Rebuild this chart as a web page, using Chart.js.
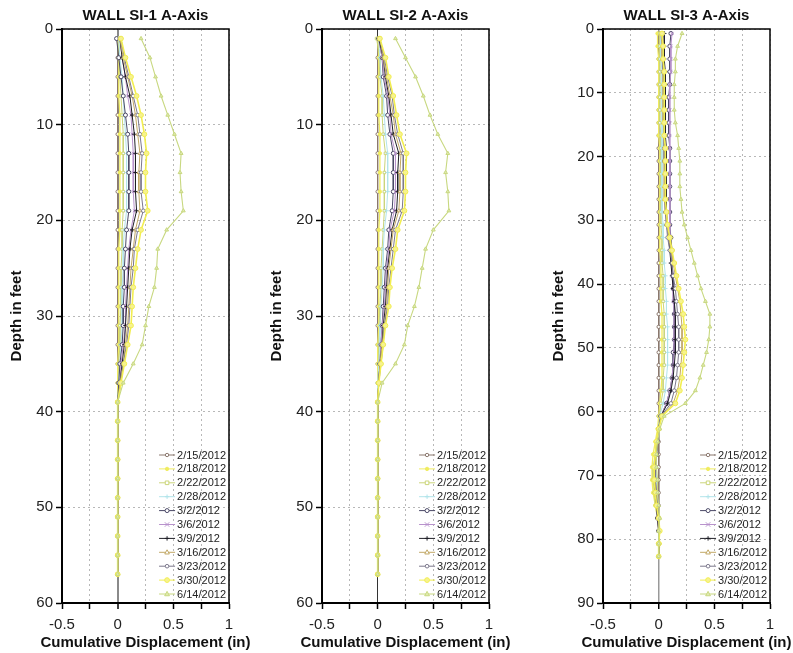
<!DOCTYPE html>
<html><head><meta charset="utf-8">
<script src="https://cdn.jsdelivr.net/npm/chart.js@4.4.1/dist/chart.umd.min.js"></script>
<style>
html,body{margin:0;padding:0;background:#fff;}
#wrap{position:relative;width:793px;height:653px;overflow:hidden;background:#fff;}
canvas{position:absolute;top:0;}
</style></head><body>
<div id="wrap">
<canvas id="c1" width="260" height="653" style="left:0px"></canvas>
<canvas id="c2" width="260" height="653" style="left:260px"></canvas>
<canvas id="c3" width="273" height="653" style="left:520px"></canvas>
</div>
<script>
// ---------------- DATA ----------------
const DATES = ['2/15/2012','2/18/2012','2/22/2012','2/28/2012','3/2/2012','3/6/2012','3/9/2012','3/16/2012','3/23/2012','3/30/2012','6/14/2012'];
const TITLES = ['WALL SI-1 A-Axis','WALL SI-2 A-Axis','WALL SI-3 A-Axis'];
const X_TITLE = 'Cumulative Displacement (in)';
const Y_TITLE = 'Depth in feet';
const X_LABELED = [-0.5, 0, 0.5, 1];
const Y_MAX = [60, 60, 90];

const DEPTH_SI1 = [1,3,5,7,9,11,13,15,17,19,21,23,25,27,29,31,33,35,37,39,41,43,45,47,49,51,53,55,57];
const DEPTH_SI2 = [1,3,5,7,9,11,13,15,17,19,21,23,25,27,29,31,33,35,37,39,41,43,45,47,49,51,53,55,57];
const DEPTH_SI3 = [0.7,2.7,4.7,6.7,8.7,10.7,12.7,14.7,16.7,18.7,20.7,22.7,24.7,26.7,28.7,30.7,32.7,34.7,36.7,38.7,40.7,42.7,44.7,46.7,48.7,50.7,52.7,54.7,56.7,58.7,60.7,62.7,64.7,66.7,68.7,70.7,72.7,74.7,76.7,78.7,80.7,82.7];

// SI-1
const SI1_0215 = [0,0,0,0,0,0,0,0,0,0,0,0,0,0,0,0,0,0,0,0,0,0,0,0,0,0,0,0,0];
const SI1_0218 = [0.00,0.01,0.01,0.01,0.02,0.02,0.02,0.02,0.02,0.02,0.02,0.01,0.01,0.01,0.01,0.01,0.01,0.00,0.00,0.00,0,0,0,0,0,0,0,0,0];
const SI1_0222 = [0.01,0.01,0.02,0.03,0.04,0.05,0.05,0.05,0.05,0.05,0.04,0.04,0.03,0.03,0.03,0.02,0.02,0.01,0.01,0.00,0,0,0,0,0,0,0,0,0];
const SI1_0228 = [0.01,0.02,0.04,0.05,0.06,0.07,0.08,0.08,0.08,0.08,0.06,0.05,0.05,0.04,0.04,0.04,0.03,0.02,0.01,0.00,0,0,0,0,0,0,0,0,0];
const SI1_0302 = [-0.01,0.01,0.03,0.05,0.07,0.09,0.10,0.10,0.10,0.10,0.08,0.07,0.06,0.06,0.05,0.05,0.04,0.02,0.01,0.00,0,0,0,0,0,0,0,0,0];
const SI1_0306 = [0.02,0.04,0.07,0.09,0.12,0.13,0.14,0.14,0.14,0.15,0.12,0.10,0.09,0.08,0.07,0.07,0.05,0.03,0.02,0.00,0,0,0,0,0,0,0,0,0];
const SI1_0309 = [0.02,0.04,0.07,0.11,0.13,0.15,0.16,0.16,0.16,0.17,0.13,0.11,0.10,0.09,0.08,0.07,0.06,0.04,0.02,0.00,0,0,0,0,0,0,0,0,0];
const SI1_0316 = [0.02,0.05,0.09,0.13,0.16,0.18,0.20,0.19,0.19,0.20,0.16,0.14,0.12,0.11,0.10,0.09,0.07,0.05,0.02,0.00,0,0,0,0,0,0,0,0,0];
const SI1_0323 = [0.03,0.06,0.10,0.14,0.18,0.20,0.22,0.21,0.21,0.23,0.18,0.15,0.14,0.12,0.11,0.10,0.08,0.05,0.03,0.00,0,0,0,0,0,0,0,0,0];
const SI1_0330 = [0.03,0.07,0.12,0.17,0.21,0.24,0.26,0.25,0.25,0.27,0.21,0.18,0.16,0.14,0.13,0.12,0.09,0.06,0.03,0.00,0,0,0,0,0,0,0,0,0];
const SI1_0614 = [0.21,0.29,0.34,0.39,0.45,0.51,0.57,0.56,0.57,0.59,0.44,0.36,0.35,0.33,0.28,0.25,0.22,0.14,0.05,0.00,0,0,0,0,0,0,0,0,0];

// SI-2
const SI2_0215 = [0,0,0,0,0,0,0,0,0,0,0,0,0,0,0,0,0,0,0,0,0,0,0,0,0,0,0,0,0];
const SI2_0218 = [0.00,0.01,0.01,0.01,0.01,0.02,0.02,0.02,0.02,0.02,0.01,0.01,0.01,0.01,0.01,0.01,0.00,0.00,0.00,0.00,0,0,0,0,0,0,0,0,0];
const SI2_0222 = [-0.01,0.02,0.02,0.04,0.04,0.05,0.07,0.06,0.06,0.06,0.05,0.04,0.03,0.03,0.02,0.02,0.01,0.01,0.00,0.00,0,0,0,0,0,0,0,0,0];
const SI2_0228 = [0.01,0.02,0.03,0.05,0.06,0.07,0.09,0.09,0.09,0.08,0.06,0.05,0.05,0.04,0.03,0.02,0.02,0.01,0.00,0.00,0,0,0,0,0,0,0,0,0];
const SI2_0302 = [0.01,0.04,0.05,0.08,0.09,0.11,0.14,0.14,0.14,0.13,0.10,0.09,0.07,0.06,0.05,0.04,0.03,0.02,0.01,0.00,0,0,0,0,0,0,0,0,0];
const SI2_0306 = [0.01,0.04,0.06,0.09,0.11,0.12,0.16,0.16,0.16,0.15,0.11,0.10,0.08,0.07,0.06,0.04,0.03,0.02,0.01,0.00,0,0,0,0,0,0,0,0,0];
const SI2_0309 = [0.01,0.05,0.07,0.10,0.12,0.14,0.19,0.18,0.18,0.17,0.13,0.11,0.09,0.08,0.07,0.05,0.04,0.02,0.01,0.00,0,0,0,0,0,0,0,0,0];
const SI2_0316 = [0.02,0.05,0.08,0.11,0.14,0.16,0.21,0.20,0.20,0.19,0.14,0.12,0.10,0.09,0.08,0.06,0.04,0.02,0.01,0.00,0,0,0,0,0,0,0,0,0];
const SI2_0323 = [0.02,0.06,0.09,0.13,0.15,0.18,0.23,0.23,0.23,0.22,0.16,0.14,0.12,0.10,0.09,0.06,0.05,0.03,0.01,0.00,0,0,0,0,0,0,0,0,0];
const SI2_0330 = [0.02,0.07,0.10,0.14,0.17,0.20,0.26,0.25,0.25,0.24,0.18,0.16,0.13,0.11,0.10,0.07,0.05,0.03,0.01,0.00,0,0,0,0,0,0,0,0,0];
const SI2_0614 = [0.16,0.25,0.34,0.41,0.47,0.54,0.63,0.61,0.63,0.64,0.50,0.43,0.40,0.37,0.33,0.27,0.24,0.16,0.04,0.00,0,0,0,0,0,0,0,0,0];

// SI-3
const SI3_0215 = [0,0,0,0,0,0,0,0,0,0,0,0,0,0,0,0,0,0,0,0,0,0,0,0,0,0,0,0,0,0,0,0,0,0,0,0,0,0,0,0,0,0];
const SI3_0218 = [-0.01,-0.01,0.00,0.00,0.00,0.00,0.00,0.00,0.00,0.01,0.01,0.01,0.01,0.01,0.01,
                  0.01,0.01,0.01,0.02,0.02,0.02,0.02,0.03,0.03,0.03,0.03,0.03,0.03,0.02,0.01,
                  0.00,-0.01,-0.03,-0.05,-0.06,-0.06,-0.05,-0.03,-0.01,0.00,0.01,0.00];
const SI3_0222 = [0.01,0.01,0.01,0.01,0.01,0.01,0.01,0.01,0.02,0.02,0.02,0.02,0.02,0.02,0.02,
                  0.02,0.03,0.03,0.03,0.04,0.04,0.04,0.05,0.05,0.05,0.05,0.05,0.04,0.04,0.02,
                  0.01,0.00,-0.01,-0.03,-0.05,-0.05,-0.04,-0.03,-0.01,0.00,0.00,0.00];
const SI3_0228 = [0.02,0.02,0.02,0.03,0.03,0.03,0.03,0.03,0.03,0.03,0.03,0.03,0.03,0.03,0.03,
                  0.04,0.04,0.05,0.05,0.06,0.06,0.07,0.07,0.08,0.08,0.08,0.08,0.07,0.06,0.04,
                  0.01,0.00,-0.01,-0.02,-0.02,-0.02,-0.02,-0.01,0.00,0.00,0.00,0.00];
const SI3_0302 = [0.11,0.10,0.10,0.10,0.10,0.09,0.09,0.09,0.09,0.10,0.10,0.10,0.10,0.10,0.10,
                  0.10,0.11,0.12,0.12,0.13,0.13,0.14,0.14,0.14,0.14,0.13,0.13,0.12,0.10,0.07,
                  0.02,0.00,-0.01,-0.02,-0.03,-0.03,-0.03,-0.02,-0.01,0.00,0.00,0.00];
const SI3_0306 = [0.12,0.11,0.11,0.11,0.10,0.10,0.10,0.10,0.10,0.10,0.10,0.10,0.10,0.10,0.10,
                  0.10,0.10,0.11,0.12,0.12,0.13,0.13,0.14,0.14,0.14,0.14,0.13,0.12,0.10,0.07,
                  0.02,0.00,-0.01,-0.02,-0.02,-0.03,-0.02,-0.02,-0.01,0.00,0.00,0.00];
const SI3_0309 = [0.05,0.05,0.05,0.06,0.06,0.06,0.06,0.06,0.06,0.07,0.07,0.07,0.07,0.07,0.07,
                  0.08,0.09,0.10,0.11,0.12,0.13,0.14,0.15,0.15,0.15,0.15,0.14,0.13,0.11,0.08,
                  0.02,0.00,-0.01,-0.02,-0.03,-0.03,-0.03,-0.02,-0.01,0.00,0.00,0.00];
const SI3_0316 = [0.02,0.03,0.03,0.04,0.04,0.04,0.04,0.04,0.05,0.05,0.05,0.05,0.05,0.05,0.06,
                  0.07,0.09,0.11,0.13,0.15,0.17,0.19,0.20,0.21,0.21,0.21,0.20,0.19,0.17,0.13,
                  0.02,0.00,-0.02,-0.03,-0.03,-0.03,-0.02,-0.01,0.00,0.01,0.00,0.00];
const SI3_0323 = [0.04,0.04,0.04,0.04,0.05,0.05,0.05,0.05,0.05,0.05,0.05,0.06,0.06,0.06,0.06,
                  0.07,0.08,0.10,0.12,0.13,0.15,0.16,0.17,0.18,0.18,0.18,0.17,0.16,0.14,0.11,
                  0.02,0.00,-0.01,-0.02,-0.03,-0.03,-0.02,-0.01,0.00,0.00,0.00,0.00];
const SI3_0330 = [0.03,0.04,0.04,0.05,0.05,0.05,0.05,0.05,0.05,0.06,0.06,0.06,0.06,0.06,0.07,
                  0.08,0.10,0.12,0.14,0.16,0.18,0.20,0.22,0.23,0.24,0.23,0.22,0.21,0.19,0.15,
                  0.03,0.00,-0.02,-0.03,-0.04,-0.04,-0.03,-0.02,0.00,0.01,0.00,0.00];
const SI3_0614 = [0.21,0.17,0.15,0.15,0.14,0.14,0.14,0.15,0.17,0.18,0.19,0.19,0.19,0.20,0.21,
                  0.23,0.26,0.29,0.32,0.35,0.38,0.42,0.46,0.46,0.45,0.43,0.40,0.37,0.33,0.24,
                  0.05,0.01,-0.01,-0.02,-0.02,-0.01,-0.01,0.00,0.01,0.00,0.00,0.00];

// ---------------- STYLES ----------------
const FONT = '"Liberation Sans", Arial, Helvetica, sans-serif';
const SERIES_STYLE = [
  {c:'#8b786e', ps:'circle',   r:1.7, bg:'#ffffff', w:1},
  {c:'#f0ec60', ps:'circle',   r:1.7, bg:'#f0ec60', w:1.3},
  {c:'#cbd57a', ps:'rect',     r:1.8, bg:'#ffffff', w:1},
  {c:'#b2e4ea', ps:'cross',    r:2.2, bg:'#b2e4ea', w:1},
  {c:'#4a4866', ps:'circle',   r:2,   bg:'#ffffff', w:1},
  {c:'#b892cc', ps:'crossRot', r:2.2, bg:'#b892cc', w:1},
  {c:'#1e1e26', ps:'cross',    r:2.2, bg:'#1e1e26', w:1},
  {c:'#c2a866', ps:'triangle', r:2.1, bg:'#ffffff', w:1},
  {c:'#7c788c', ps:'circle',   r:1.8, bg:'#ffffff', w:1},
  {c:'#f2ee50', ps:'circle',   r:2.4, bg:'#f6f290', w:1.6},
  {c:'#c8d880', ps:'triangle', r:2.2, bg:'#e0eab0', w:1.1}
];
const ZERO_LINE = [{c:'#8a8a8a', w:2},{c:'#333333', w:1},{c:'#999999', w:1.5}];
const LAYOUT = [
  {left:62, right:31},
  {left:62, right:31},
  {left:83, right:23}
];
const YTITLE_PAD = [8, 8, 30];

// ---------------- PLUGINS ----------------
function drawMarker(ctx, st, x, y) {
  const r = st.r;
  ctx.save();
  ctx.strokeStyle = st.c; ctx.fillStyle = st.bg; ctx.lineWidth = 1;
  ctx.beginPath();
  if (st.ps === 'circle') { ctx.arc(x, y, r, 0, Math.PI*2); ctx.fill(); ctx.stroke(); }
  else if (st.ps === 'rect') { ctx.rect(x-r, y-r, 2*r, 2*r); ctx.fill(); ctx.stroke(); }
  else if (st.ps === 'triangle') { ctx.moveTo(x, y-r*1.2); ctx.lineTo(x+r*1.1, y+r*0.8); ctx.lineTo(x-r*1.1, y+r*0.8); ctx.closePath(); ctx.fill(); ctx.stroke(); }
  else if (st.ps === 'cross') { ctx.moveTo(x-r, y); ctx.lineTo(x+r, y); ctx.moveTo(x, y-r); ctx.lineTo(x, y+r); ctx.stroke(); }
  else if (st.ps === 'crossRot') { ctx.moveTo(x-r, y-r); ctx.lineTo(x+r, y+r); ctx.moveTo(x+r, y-r); ctx.lineTo(x-r, y+r); ctx.stroke(); }
  ctx.restore();
}

const framePlugin = {
  id: 'frameAndLegend',
  afterDraw(chart) {
    const ctx = chart.ctx, a = chart.chartArea;
    const idx = chart.options.plugins.frameAndLegend.panel;
    ctx.save();
    // plot frame
    ctx.strokeStyle = '#000'; ctx.lineWidth = 1.5;
    ctx.strokeRect(a.left, a.top, a.right - a.left, a.bottom - a.top);
    ctx.lineWidth = 2;
    ctx.beginPath(); ctx.moveTo(a.left, a.top); ctx.lineTo(a.left, a.bottom); ctx.lineTo(a.right, a.bottom); ctx.stroke();
    // panel title
    ctx.fillStyle = '#111';
    ctx.font = 'bold 15px ' + FONT;
    ctx.textAlign = 'center'; ctx.textBaseline = 'middle';
    ctx.fillText(TITLES[idx], (a.left + a.right) / 2, 15.5);
    // x-axis title (drawn unconstrained so it is not squeezed)
    ctx.fillText(X_TITLE, (a.left + a.right) / 2, 642.5);
    // legend
    const ds = chart.data.datasets;
    ctx.font = '11px ' + FONT;
    ctx.textAlign = 'left';
    let tw = 0;
    ds.forEach(d => { tw = Math.max(tw, ctx.measureText(d.label).width); });
    const right = a.right - 3;
    const textX = right - tw;
    const sR = textX - 2, sL = sR - 16;
    const lh = 13.9;
    const y0 = a.bottom - 9 - lh * (ds.length - 1);
    ds.forEach((d, i) => {
      const st = SERIES_STYLE[i];
      const y = y0 + i * lh;
      ctx.strokeStyle = st.c; ctx.lineWidth = 1;
      ctx.beginPath(); ctx.moveTo(sL, y); ctx.lineTo(sR, y); ctx.stroke();
      drawMarker(ctx, st, (sL + sR) / 2, y);
      ctx.fillStyle = '#222';
      ctx.fillText(d.label, textX, y + 0.5);
    });
    ctx.restore();
  }
};

// ---------------- BUILD ----------------
function makeDatasets(depths, series) {
  return series.map((vals, i) => {
    const st = SERIES_STYLE[i];
    return {
      label: DATES[i],
      data: vals.map((v, j) => ({x: v, y: depths[j]})),
      showLine: true,
      borderColor: st.c,
      backgroundColor: st.bg,
      borderWidth: st.w,
      pointStyle: st.ps,
      pointRadius: st.r,
      pointBorderWidth: 1,
      pointBorderColor: st.c,
      pointBackgroundColor: st.bg,
      tension: 0,
      fill: false,
      order: series.length - i
    };
  });
}

function makeChart(canvasId, idx, depths, series) {
  const L = LAYOUT[idx], Z = ZERO_LINE[idx];
  return new Chart(document.getElementById(canvasId), {
    type: 'scatter',
    data: { datasets: makeDatasets(depths, series) },
    options: {
      responsive: false,
      animation: false,
      devicePixelRatio: 1,
      layout: { padding: { top: 29, right: L.right, left: 0, bottom: 0 } },
      plugins: {
        legend: { display: false },
        tooltip: { enabled: false },
        title: { display: false },
        frameAndLegend: { panel: idx }
      },
      scales: {
        x: {
          type: 'linear', position: 'bottom',
          min: -0.5, max: 1,
          afterFit: s => { s.height = 50; },
          ticks: {
            stepSize: 0.25, autoSkip: false, maxRotation: 0, padding: 7,
            color: '#222', font: { family: FONT, size: 15 },
            callback: v => (X_LABELED.some(t => Math.abs(t - v) < 1e-9) ? String(v) : '')
          },
          grid: {
            color: c => (c.tick && Math.abs(c.tick.value) < 1e-9) ? Z.c : '#b8b8b8',
            lineWidth: c => (c.tick && Math.abs(c.tick.value) < 1e-9) ? Z.w : 1,
            tickLength: 6, tickColor: '#000', tickWidth: 1.5, tickBorderDash: []
          },
          border: {
            display: true, color: '#000', width: 2,
            dash: c => (c.tick && Math.abs(c.tick.value) < 1e-9) ? [] : [2, 3]
          },
          title: { display: false }
        },
        y: {
          type: 'linear', position: 'left', reverse: true,
          min: 0, max: Y_MAX[idx],
          afterFit: s => { s.width = L.left; },
          ticks: {
            stepSize: 10, autoSkip: false, padding: 3,
            color: '#222', font: { family: FONT, size: 15 }
          },
          grid: {
            color: '#b8b8b8', lineWidth: 1,
            tickLength: 6, tickColor: '#000', tickWidth: 1.5, tickBorderDash: []
          },
          border: { display: true, color: '#000', width: 2, dash: [2, 3] },
          title: {
            display: true, text: Y_TITLE, color: '#111',
            font: { family: FONT, size: 15, weight: 'bold' },
            padding: { top: YTITLE_PAD[idx], bottom: 0 }
          }
        }
      }
    },
    plugins: [framePlugin]
  });
}

makeChart('c1', 0, DEPTH_SI1, [SI1_0215,SI1_0218,SI1_0222,SI1_0228,SI1_0302,SI1_0306,SI1_0309,SI1_0316,SI1_0323,SI1_0330,SI1_0614]);
makeChart('c2', 1, DEPTH_SI2, [SI2_0215,SI2_0218,SI2_0222,SI2_0228,SI2_0302,SI2_0306,SI2_0309,SI2_0316,SI2_0323,SI2_0330,SI2_0614]);
makeChart('c3', 2, DEPTH_SI3, [SI3_0215,SI3_0218,SI3_0222,SI3_0228,SI3_0302,SI3_0306,SI3_0309,SI3_0316,SI3_0323,SI3_0330,SI3_0614]);
</script>
</body></html>
